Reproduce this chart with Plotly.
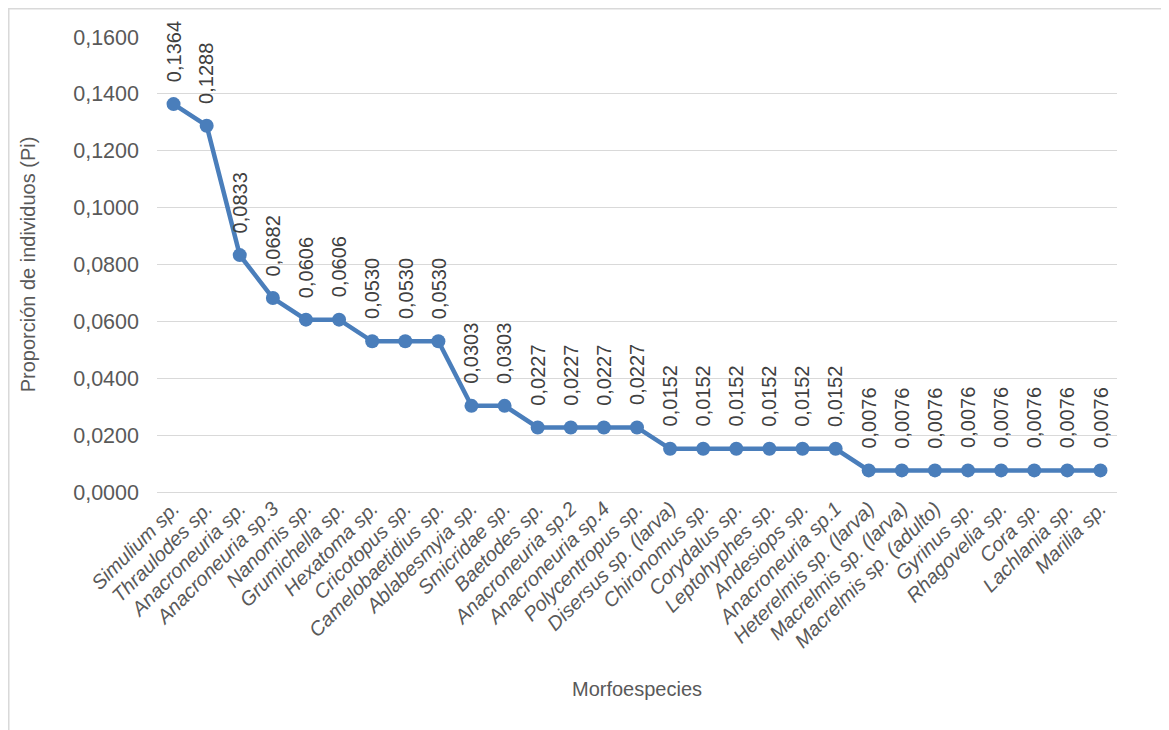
import plotly.graph_objects as go

categories = [
    "Simulium sp.", "Thraulodes sp.", "Anacroneuria sp.", "Anacroneuria sp.3",
    "Nanomis sp.", "Grumichella sp.", "Hexatoma sp.", "Cricotopus sp.",
    "Camelobaetidius sp.", "Ablabesmyia sp.", "Smicridae sp.", "Baetodes sp.",
    "Anacroneuria sp.2", "Anacroneuria sp.4", "Polycentropus sp.",
    "Disersus sp. (larva)", "Chironomus sp.", "Corydalus sp.", "Leptohyphes sp.",
    "Andesiops sp.", "Anacroneuria sp.1", "Heterelmis sp. (larva)",
    "Macrelmis sp. (larva)", "Macrelmis sp. (adulto)", "Gyrinus sp.",
    "Rhagovelia sp.", "Cora sp.", "Lachlania sp.", "Marilia sp.",
]
values = [
    0.1364, 0.1288, 0.0833, 0.0682, 0.0606, 0.0606, 0.0530, 0.0530, 0.0530,
    0.0303, 0.0303, 0.0227, 0.0227, 0.0227, 0.0227,
    0.0152, 0.0152, 0.0152, 0.0152, 0.0152, 0.0152,
    0.0076, 0.0076, 0.0076, 0.0076, 0.0076, 0.0076, 0.0076, 0.0076,
]
y_ticks = [0.0, 0.02, 0.04, 0.06, 0.08, 0.10, 0.12, 0.14, 0.16]

FONT = "Liberation Sans, Arial, sans-serif"
BLUE = "#4A7EBB"

fig = go.Figure()
fig.add_trace(go.Scatter(
    x=categories, y=values, mode="lines+markers",
    line=dict(color=BLUE, width=4.5),
    marker=dict(color=BLUE, size=14),
    showlegend=False, hoverinfo="skip",
))

annotations = []
for c, v in zip(categories, values):
    annotations.append(dict(
        x=c, y=v, xref="x", yref="y",
        text=f"{v:.4f}".replace(".", ","),
        textangle=-90, showarrow=False,
        yanchor="bottom", xanchor="center", yshift=20,
        font=dict(family=FONT, size=20, color="#404040"),
    ))

fig.update_layout(
    width=1169, height=730,
    margin=dict(l=149, r=60, t=29, b=246),
    paper_bgcolor="white", plot_bgcolor="white",
    separators=",.",
    font=dict(family=FONT, size=20, color="#595959"),
    annotations=annotations,
    shapes=[dict(type="rect", xref="paper", yref="paper",
                 x0=-0.1544, x1=1.3, y0=-0.7, y1=1.0621,
                 line=dict(color="#d9d9d9", width=1.5), layer="below")],
    xaxis=dict(
        type="category", range=[-0.5, len(categories) - 0.5],
        tickangle=-45, showgrid=False, showline=False, zeroline=False,
        ticks="", tickfont=dict(family=FONT, size=20, color="#595959", style="italic"),
        title=dict(text="Morfoespecies", font=dict(size=20, color="#595959"), standoff=30),
    ),
    yaxis=dict(
        range=[0, 0.16], tickvals=y_ticks, tickformat=".4f",
        showgrid=True, gridcolor="#d9d9d9", gridwidth=1.2,
        zeroline=True, zerolinecolor="#d9d9d9", zerolinewidth=1.2,
        showline=False, ticks="", ticklabelstandoff=17,
        tickfont=dict(family=FONT, size=21.5, color="#595959"),
        title=dict(text="Proporción de individuos (Pi)", font=dict(size=20, color="#595959"), standoff=32),
    ),
)

fig.write_html("out.html")
